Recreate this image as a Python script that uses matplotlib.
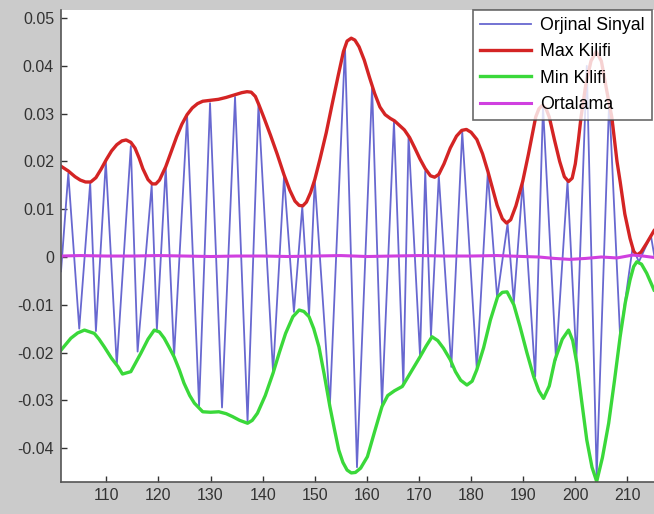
# EMD style plot: signal with its upper/lower envelopes and their mean

import numpy as np
import matplotlib.pyplot as plt

# Original signal, drawn through its extrema (sample index, amplitude)
sig_x = [101.3, 102.7, 104.8, 106.9, 108.0, 109.9, 112.0, 114.7, 116.0, 118.7,
         119.7, 121.4, 123.0, 125.5, 127.8, 129.9, 132.2, 134.7, 137.1, 139.2,
         142.0, 144.1, 146.0, 147.6, 148.9, 150.0, 152.9, 155.8, 158.1, 161.0,
         162.9, 165.2, 167.0, 168.0, 170.2, 171.2, 172.3, 173.8, 176.2, 178.3,
         181.1, 183.2, 185.0, 187.0, 188.2, 189.9, 192.3, 193.8, 196.3, 198.5,
         200.2, 202.2, 204.1, 206.5, 208.6, 211.0, 212.2, 214.5, 215.2]
sig_y = [-0.0030, 0.0175, -0.0150, 0.0155, -0.0155, 0.0200, -0.0226, 0.0232, -0.0198, 0.0150,
         -0.0152, 0.0187, -0.0208, 0.0295, -0.0312, 0.0322, -0.0315, 0.0335, -0.0345, 0.0318,
         -0.0242, 0.0168, -0.0115, 0.0105, -0.0122, 0.0160, -0.0310, 0.0440, -0.0440, 0.0355,
         -0.0310, 0.0283, -0.0268, 0.0252, -0.0207, 0.0180, -0.0165, 0.0170, -0.0230, 0.0262,
         -0.0235, 0.0175, -0.0085, 0.0070, -0.0095, 0.0155, -0.0250, 0.0315, -0.0215, 0.0158,
         -0.0215, 0.0400, -0.0460, 0.0330, -0.0167, 0.0020, -0.0010, 0.0045, 0.0000]

# Max envelope
max_x = [101.3, 102.7, 104.0, 105.0, 106.0, 107.0, 108.0, 109.0, 110.0, 111.0,
         112.0, 113.0, 113.8, 114.7, 115.5, 116.3, 117.0, 118.0, 118.8, 119.5,
         120.2, 121.4, 122.5, 123.5, 124.5, 125.5, 126.5, 127.5, 128.5, 130.0,
         131.5, 133.0, 134.5, 136.0, 137.0, 137.8, 138.6, 139.3, 140.3, 141.5,
         142.8, 144.1, 145.2, 146.2, 147.0, 147.7, 148.4, 149.2, 150.0, 151.0,
         152.2, 153.3, 154.5, 155.5, 156.2, 157.0, 157.7, 158.5, 159.5, 160.5,
         161.5, 162.5, 163.5, 164.5, 165.3, 166.2, 167.2, 168.2, 169.2, 170.2,
         171.2, 172.2, 173.0, 173.8, 174.8, 176.0, 177.2, 178.2, 179.1, 180.0,
         181.1, 182.2, 183.2, 184.2, 185.0, 186.0, 186.8, 187.6, 188.6, 189.9,
         191.0, 192.4, 193.0, 193.7, 194.4, 195.0, 196.0, 197.0, 197.9, 198.7,
         199.4, 200.0, 200.6, 201.1, 202.0, 203.0, 204.0, 205.0, 206.0, 207.0,
         208.0, 208.6, 209.5, 210.5, 211.2, 211.8, 212.6, 213.7, 215.1]
max_y = [0.0190, 0.0180, 0.0168, 0.0161, 0.0157, 0.0157, 0.0166, 0.0184, 0.0204, 0.0222,
         0.0235, 0.0243, 0.0245, 0.0240, 0.0228, 0.0207, 0.0185, 0.0162, 0.0153, 0.0153,
         0.0161, 0.0189, 0.0222, 0.0252, 0.0278, 0.0298, 0.0312, 0.0321, 0.0326, 0.0328,
         0.0330, 0.0334, 0.0339, 0.0344, 0.0346, 0.0345, 0.0336, 0.0318, 0.0290, 0.0255,
         0.0215, 0.0172, 0.0140, 0.0117, 0.0108, 0.0107, 0.0115, 0.0135, 0.0162, 0.0205,
         0.0260, 0.0318, 0.0380, 0.0430, 0.0452, 0.0458, 0.0454, 0.0440, 0.0412, 0.0376,
         0.0342, 0.0314, 0.0298, 0.0290, 0.0285, 0.0276, 0.0266, 0.0250, 0.0228, 0.0205,
         0.0185, 0.0170, 0.0167, 0.0173, 0.0195, 0.0228, 0.0253, 0.0265, 0.0267, 0.0261,
         0.0246, 0.0216, 0.0180, 0.0140, 0.0108, 0.0080, 0.0071, 0.0078, 0.0107, 0.0158,
         0.0215, 0.0293, 0.0310, 0.0318, 0.0310, 0.0293, 0.0245, 0.0200, 0.0168, 0.0158,
         0.0165, 0.0195, 0.0245, 0.0293, 0.0360, 0.0410, 0.0430, 0.0410, 0.0350, 0.0293,
         0.0200, 0.0158, 0.0090, 0.0039, 0.0012, 0.0004, 0.0010, 0.0029, 0.0055]

# Min envelope
min_x = [101.3, 103.2, 104.5, 105.8, 107.7, 108.6, 109.6, 111.0, 112.2, 113.1,
         114.7, 115.6, 116.6, 118.0, 119.2, 120.2, 121.1, 122.0, 123.0, 124.0,
         124.9, 126.0, 126.9, 128.5, 130.0, 131.6, 133.0, 134.2, 135.6, 137.1,
         138.0, 139.0, 140.5, 142.0, 143.2, 144.4, 145.8, 147.0, 147.9, 148.9,
         149.8, 150.8, 151.8, 152.9, 153.8, 154.6, 155.4, 156.2, 157.0, 157.8,
         158.8, 160.1, 161.5, 162.9, 164.0, 165.3, 166.8, 168.5, 170.2, 171.4,
         172.5, 173.6, 174.7, 176.0, 177.0, 178.0, 179.2, 180.2, 181.1, 182.4,
         183.7, 185.1, 186.0, 186.9, 188.2, 189.4, 190.7, 192.0, 193.0, 193.9,
         195.0, 196.1, 197.5, 198.7, 199.5, 200.3, 201.2, 202.2, 203.2, 204.1,
         205.2, 206.4, 207.5, 208.6, 209.6, 210.5, 211.2, 211.8, 212.7, 213.7,
         215.1]
min_y = [-0.0195, -0.0170, -0.0159, -0.0153, -0.0160, -0.0172, -0.0188, -0.0212, -0.0229, -0.0245,
         -0.0240, -0.0222, -0.0202, -0.0172, -0.0153, -0.0157, -0.0170, -0.0188, -0.0209, -0.0236,
         -0.0264, -0.0290, -0.0306, -0.0324, -0.0325, -0.0324, -0.0328, -0.0334, -0.0342, -0.0348,
         -0.0342, -0.0327, -0.0290, -0.0243, -0.0200, -0.0160, -0.0125, -0.0111, -0.0114, -0.0125,
         -0.0150, -0.0188, -0.0245, -0.0313, -0.0362, -0.0404, -0.0430, -0.0446, -0.0452, -0.0451,
         -0.0442, -0.0418, -0.0365, -0.0313, -0.0290, -0.0280, -0.0271, -0.0240, -0.0209, -0.0186,
         -0.0167, -0.0175, -0.0191, -0.0215, -0.0240, -0.0258, -0.0268, -0.0260, -0.0236, -0.0190,
         -0.0132, -0.0083, -0.0074, -0.0073, -0.0100, -0.0146, -0.0200, -0.0250, -0.0280, -0.0296,
         -0.0270, -0.0215, -0.0172, -0.0153, -0.0175, -0.0223, -0.0300, -0.0383, -0.0440, -0.0470,
         -0.0420, -0.0348, -0.0260, -0.0167, -0.0095, -0.0048, -0.0020, -0.0010, -0.0015, -0.0034,
         -0.0069]

# Mean of the two envelopes
mean_x = [101.3, 105, 110, 115, 120, 125, 130, 135, 140, 145, 150, 155, 160, 165,
          170, 175, 180, 185, 190, 193, 196, 199, 202, 205, 208, 211, 213, 215.1]
mean_y = [0.0002, 0.0003, 0.0002, 0.0002, 0.0003, 0.0002, 0.0001, 0.0002, 0.0002, 0.0001,
          0.0002, 0.0003, 0.0001, 0.0002, 0.0003, 0.0002, 0.0002, 0.0003, 0.0001, 0.0000,
          -0.0003, -0.0005, -0.0003, 0.0000, -0.0002, 0.0004, 0.0002, -0.0001]

labels = ['Orjinal Sinyal', 'Max Kilifi', 'Min Kilifi', 'Ortalama']
xticks = [110, 120, 130, 140, 150, 160, 170, 180, 190, 200, 210]
yticks = [-0.04, -0.03, -0.02, -0.01, 0, 0.01, 0.02, 0.03, 0.04, 0.05]
yticklabels = ['-0.04', '-0.03', '-0.02', '-0.01', '0', '0.01', '0.02', '0.03', '0.04', '0.05']

plt.rcParams['font.family'] = ['Liberation Sans', 'DejaVu Sans']

fig = plt.figure(figsize=(6.54, 5.14), dpi=100, facecolor='#cbcbcb')
ax = fig.add_axes([61/654, 32/514, 593/654, 472/514])
ax.set_facecolor('white')

ax.plot(sig_x, sig_y, color='#6868d0', lw=1.3, label=labels[0])
ax.plot(max_x, max_y, color='#d42424', lw=2.4, label=labels[1])
ax.plot(min_x, min_y, color='#3ad83a', lw=2.4, label=labels[2])
ax.plot(mean_x, mean_y, color='#d040e0', lw=2.2, label=labels[3])

ax.set_xlim(101.3, 215.1)
ax.set_ylim(-0.0471, 0.0517)
ax.set_xticks(xticks)
ax.set_yticks(yticks)
ax.set_yticklabels(yticklabels)
ax.tick_params(direction='in', length=4, width=1, colors='#333333', labelsize=11.5)
ax.tick_params(axis='x', pad=4)
ax.tick_params(axis='y', pad=5)
for s in ['top', 'right']:
    ax.spines[s].set_visible(False)
for s in ['left', 'bottom']:
    ax.spines[s].set_color('#555555')
    ax.spines[s].set_linewidth(1.2)

leg = ax.legend(loc='upper right', bbox_to_anchor=(652/654, 504/514),
                bbox_transform=fig.transFigure, fontsize=12.8, frameon=True,
                fancybox=False, handlelength=2.9, handletextpad=0.5,
                labelspacing=0.52, borderpad=0.4, borderaxespad=0)
leg.get_frame().set_edgecolor('#444444')
leg.get_frame().set_linewidth(1.2)

plt.savefig('out.png', dpi=100, facecolor=fig.get_facecolor())
